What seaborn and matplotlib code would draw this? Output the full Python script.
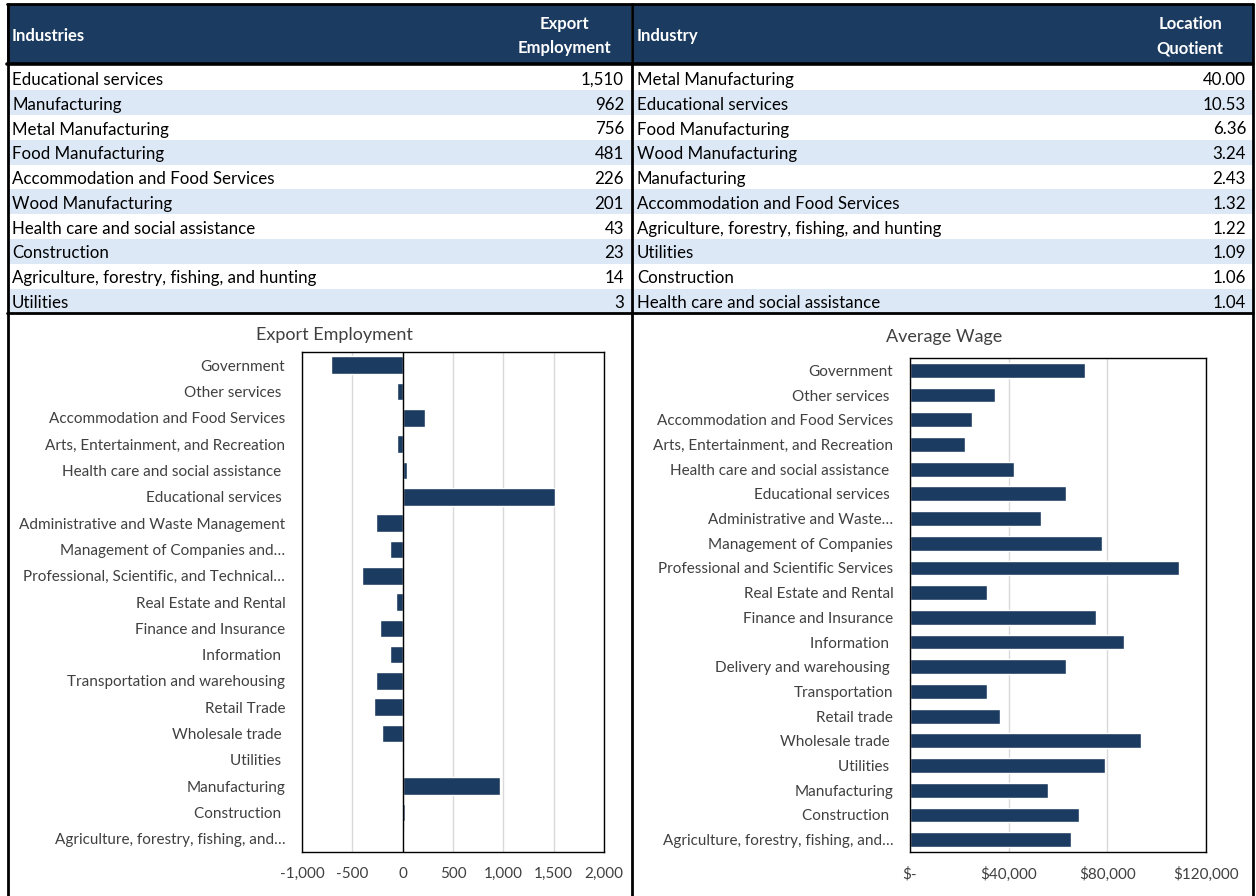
import matplotlib
matplotlib.use("Agg")
import matplotlib.pyplot as plt
import pandas as pd
import seaborn as sns
from matplotlib.patches import Rectangle
from matplotlib.ticker import FixedLocator, FuncFormatter

sns.set_theme(style="white")
plt.rcParams["font.family"] = ["Lato", "DejaVu Sans"]

NAVY = "#1b3b60"
BAND = "#dce8f6"
TEXT_GRAY = "#404040"
GRID = "#d9d9d9"

# ---- summary tables ----
export_table_industries = [
    "Educational services", "Manufacturing", "Metal Manufacturing",
    "Food Manufacturing", "Accommodation and Food Services", "Wood Manufacturing",
    "Health care and social assistance", "Construction",
    "Agriculture, forestry, fishing, and hunting", "Utilities",
]
export_table_values = [1510, 962, 756, 481, 226, 201, 43, 23, 14, 3]

lq_table_industries = [
    "Metal Manufacturing", "Educational services", "Food Manufacturing",
    "Wood Manufacturing", "Manufacturing", "Accommodation and Food Services",
    "Agriculture, forestry, fishing, and hunting", "Utilities", "Construction",
    "Health care and social assistance",
]
lq_table_values = [40.00, 10.53, 6.36, 3.24, 2.43, 1.32, 1.22, 1.09, 1.06, 1.04]

# ---- export employment by sector ----
export_sectors = [
    "Government", "Other services ", "Accommodation and Food Services",
    "Arts, Entertainment, and Recreation", "Health care and social assistance ",
    "Educational services ", "Administrative and Waste Management",
    "Management of Companies and…", "Professional, Scientific, and Technical…",
    "Real Estate and Rental", "Finance and Insurance", "Information ",
    "Transportation and warehousing", "Retail Trade", "Wholesale trade ",
    "Utilities ", "Manufacturing", "Construction ",
    "Agriculture, forestry, fishing, and…",
]
export_employment = [-710, -55, 226, -55, 43, 1510, -267, -128, -406, -68,
                     -223, -128, -267, -283, -207, 3, 962, 23, 14]
export_ticks = [-1000, -500, 0, 500, 1000, 1500, 2000]

# ---- average wage by sector ----
wage_sectors = [
    "Government", "Other services ", "Accommodation and Food Services",
    "Arts, Entertainment, and Recreation", "Health care and social assistance ",
    "Educational services ", "Administrative and Waste…", "Management of Companies",
    "Professional and Scientific Services", "Real Estate and Rental",
    "Finance and Insurance", "Information ", "Delivery and warehousing ",
    "Transportation", "Retail trade", "Wholesale trade ", "Utilities ",
    "Manufacturing", "Construction ", "Agriculture, forestry, fishing, and…",
]
average_wage = [71000, 34500, 25000, 22400, 42000, 63400, 53300, 78000, 109000,
                31200, 75400, 86800, 63400, 31200, 36300, 93700, 79200, 55800,
                68500, 65200]
wage_ticks = [0, 40000, 80000, 120000]

W, H = 1256, 896
fig = plt.figure(figsize=(W / 100, H / 100), dpi=100)
fig.patch.set_facecolor("white")


def px_rect(left, top, right, bottom):
    return [left / W, 1 - bottom / H, (right - left) / W, (bottom - top) / H]


# background canvas in pixel coordinates for tables and frames
base = fig.add_axes([0, 0, 1, 1])
base.set_xlim(0, W)
base.set_ylim(H, 0)
base.axis("off")

HEAD_TOP, HEAD_BOT = 4, 64
ROW0, ROW_H = 65.5, 24.8
TABLE_BOT = ROW0 + ROW_H * 10


def draw_table(x0, x1, head_label, head_value, head_value_x, names, values, fmt):
    base.add_patch(Rectangle((x0, HEAD_TOP), x1 - x0, HEAD_BOT - HEAD_TOP,
                             facecolor=NAVY, edgecolor="none", zorder=1))
    base.text(x0 + 5, (HEAD_TOP + HEAD_BOT) / 2 + 2, head_label, color="white",
              fontsize=12, fontweight="bold", ha="left", va="center", zorder=3)
    base.text(head_value_x, (HEAD_TOP + HEAD_BOT) / 2 + 2, head_value, color="white",
              fontsize=12, fontweight="bold", ha="center", va="center",
              linespacing=1.65, zorder=3)
    for i, (name, val) in enumerate(zip(names, values)):
        top = ROW0 + i * ROW_H
        if i % 2 == 1:
            base.add_patch(Rectangle((x0, top), x1 - x0, ROW_H, facecolor=BAND,
                                     edgecolor="none", zorder=1))
        cy = top + ROW_H / 2 + 2
        base.text(x0 + 5, cy, name, color="black", fontsize=12.2,
                  ha="left", va="center", zorder=3)
        base.text(x1 - 7, cy, fmt(val), color="black", fontsize=12.2,
                  ha="right", va="center", zorder=3)


draw_table(7, 631, "Industries", "Export\nEmployment", 564,
           export_table_industries, export_table_values, lambda v: f"{v:,.0f}")
draw_table(632, 1253, "Industry", "Location\nQuotient", 1190,
           lq_table_industries, lq_table_values, lambda v: f"{v:.2f}")

# frame lines
lw = 2.0
base.plot([7, 1253], [HEAD_TOP, HEAD_TOP], color="black", lw=lw, zorder=4)
base.plot([7, 1253], [HEAD_BOT + 0.5, HEAD_BOT + 0.5], color="black", lw=2.6, zorder=4)
base.plot([7, 1253], [TABLE_BOT, TABLE_BOT], color="black", lw=lw, zorder=4)
base.plot([7.5, 7.5], [HEAD_TOP, H], color="black", lw=lw, zorder=4)
base.plot([631.5, 631.5], [HEAD_TOP, H], color="black", lw=lw, zorder=4)
base.plot([1252.5, 1252.5], [HEAD_TOP, H], color="black", lw=lw, zorder=4)


def style_chart(ax, ticks, fmt, title, title_xy, ypad):
    ax.set_facecolor("white")
    ax.set_xlim(ticks[0], ticks[-1])
    ax.xaxis.set_major_locator(FixedLocator(ticks))
    ax.xaxis.set_major_formatter(FuncFormatter(fmt))
    ax.xaxis.grid(True, color=GRID, lw=1)
    ax.yaxis.grid(False)
    ax.set_axisbelow(True)
    ax.set_xlabel("")
    ax.set_ylabel("")
    ax.tick_params(axis="both", length=0, colors=TEXT_GRAY, labelsize=11)
    ax.tick_params(axis="y", pad=ypad)
    ax.tick_params(axis="x", pad=11)
    for sp in ax.spines.values():
        sp.set_visible(True)
        sp.set_color("black")
        sp.set_linewidth(1)
    fig.text(title_xy[0] / W, 1 - title_xy[1] / H, title, ha="center", va="center",
             fontsize=13, color=TEXT_GRAY)


# export employment chart
export_df = pd.DataFrame({"sector": export_sectors, "jobs": export_employment})
ax1 = fig.add_axes(px_rect(302, 352, 604, 852))
sns.barplot(data=export_df, x="jobs", y="sector", orient="h", color=NAVY,
            saturation=1, width=0.67, ax=ax1)
ax1.axvline(0, color="black", lw=1, zorder=3)
style_chart(ax1, export_ticks, lambda v, p: f"{v:,.0f}", "Export Employment",
            (334, 335), 12)

# average wage chart
wage_df = pd.DataFrame({"sector": wage_sectors, "wage": average_wage})
ax2 = fig.add_axes(px_rect(910, 358, 1206, 852))
sns.barplot(data=wage_df, x="wage", y="sector", orient="h", color=NAVY,
            saturation=1, width=0.6, ax=ax2)
style_chart(ax2, wage_ticks, lambda v, p: "$-" if v == 0 else f"${v:,.0f}",
            "Average Wage", (944, 337), 12)

fig.savefig("out.png", dpi=100, facecolor="white")
